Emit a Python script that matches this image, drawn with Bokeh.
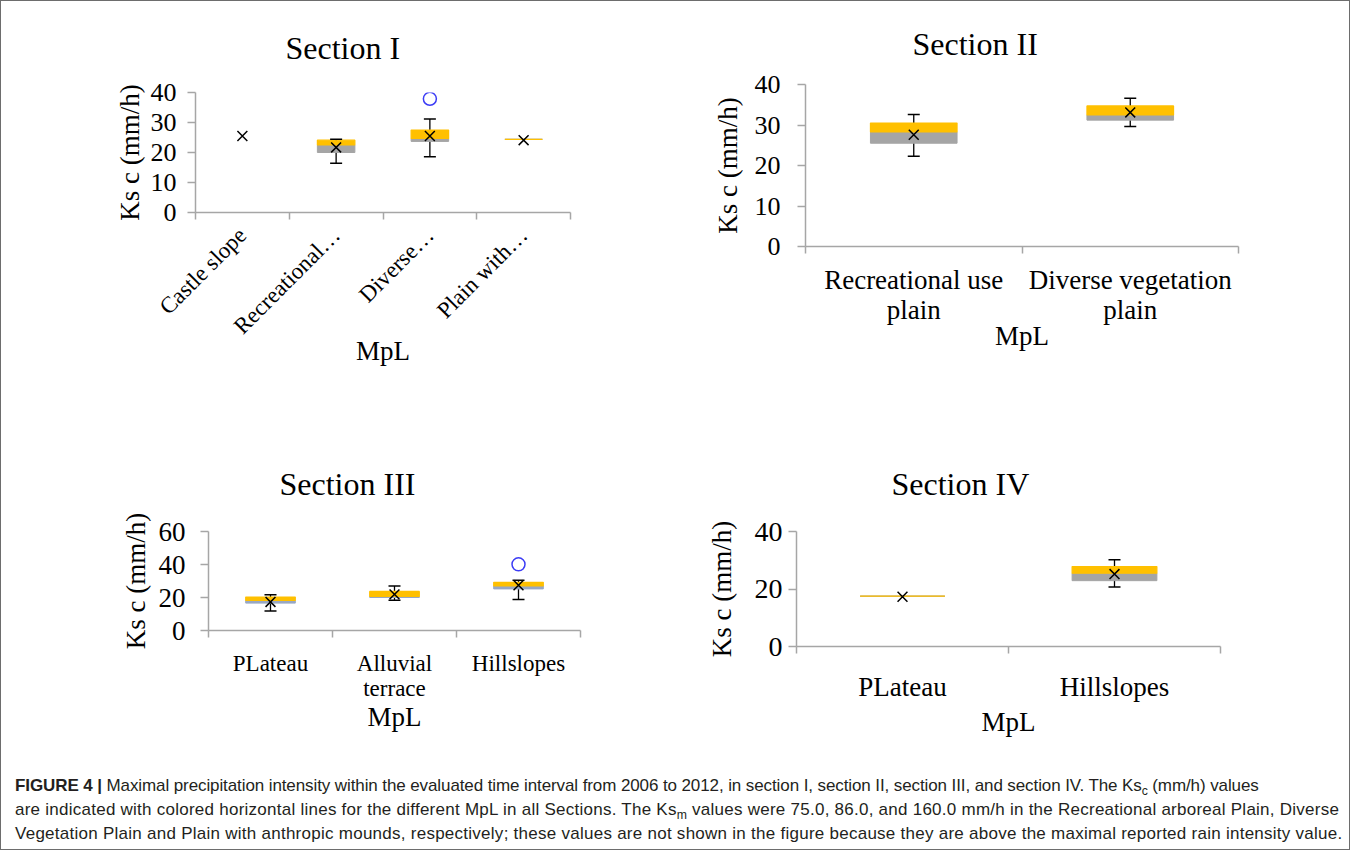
import math
from bokeh.plotting import figure
from bokeh.models import FixedTicker, ColumnDataSource, Div, Range1d
from bokeh.layouts import column, row
from bokeh.embed import file_html
from bokeh.resources import INLINE

# ---------------- data ----------------
s1_categories = ["Castle slope", "Recreational\u2026", "Diverse\u2026", "Plain with\u2026"]
s1_q1 = [None, 20.0, 23.7, 24.4]
s1_median = [None, 22.5, 24.7, 24.4]
s1_q3 = [None, 24.1, 27.5, 24.4]
s1_low = [None, 16.4, 18.6, None]
s1_high = [None, 24.4, 31.2, None]
s1_mean = [25.5, 21.7, 25.5, 24.1]
s1_outlier_cat = [2]
s1_outlier = [37.9]

s2_categories = ["Recreational use\nplain", "Diverse vegetation\nplain"]
s2_q1 = [25.5, 31.2]
s2_median = [28.3, 32.5]
s2_q3 = [30.5, 34.7]
s2_low = [22.3, 29.6]
s2_high = [32.6, 36.6]
s2_mean = [27.6, 33.1]
s2_outlier_cat = []
s2_outlier = []

s3_categories = ["PLateau", "Alluvial\nterrace", "Hillslopes"]
s3_q1 = [16.6, 20.0, 25.2]
s3_median = [18.2, 20.6, 27.0]
s3_q3 = [20.3, 23.7, 29.2]
s3_low = [11.8, 18.4, 18.8]
s3_high = [21.7, 27.0, 30.4]
s3_mean = [17.3, 21.9, 27.4]
s3_outlier_cat = [2]
s3_outlier = [40.1]

s4_categories = ["PLateau", "Hillslopes"]
s4_q1 = [17.5, 22.9]
s4_median = [17.5, 25.5]
s4_q3 = [17.5, 27.8]
s4_low = [None, 20.7]
s4_high = [None, 30.2]
s4_mean = [17.3, 25.2]
s4_outlier_cat = []
s4_outlier = []

y_title = "Ks c (mm/h)"
x_title = "MpL"

SERIF = "Liberation Serif"
ORANGE = "#FFC000"
GRAY = "#A5A5A5"
AXIS = "#A6A6A6"


def panel(title, cats, q1, med, q3, lo, hi, mean, out_cat, out_val, ymax, ystep, g):
    n = len(cats)
    p = figure(width=g["w"], height=g["h"], x_range=Range1d(0, n), y_range=Range1d(0, ymax),
               output_backend="svg", toolbar_location=None,
               min_border_left=g["ml"], min_border_right=g["mr"],
               min_border_top=g["mt"], min_border_bottom=g["mb"])
    p.outline_line_color = None
    p.xgrid.visible = False
    p.ygrid.visible = False
    p.background_fill_color = "white"
    p.border_fill_color = "white"

    p.title.text = title
    p.title.align = "left"
    p.title.text_font = SERIF
    p.title.text_font_style = "normal"
    p.title.text_font_size = "32px"
    p.title.text_color = "black"
    p.title.offset = g["toff"]
    p.title.standoff = g["tstand"]

    yax = p.yaxis[0]
    yax.ticker = FixedTicker(ticks=list(range(0, ymax + 1, ystep)))
    yax.major_tick_out = 8
    yax.major_tick_in = 0
    yax.minor_tick_out = 0
    yax.minor_tick_in = 0
    yax.axis_line_color = AXIS
    yax.axis_line_width = 1.5
    yax.major_tick_line_color = AXIS
    yax.major_tick_line_width = 1.5
    yax.major_label_text_font = SERIF
    yax.major_label_text_font_size = g["yfs"]
    yax.major_label_text_color = "black"
    yax.major_label_standoff = g["ylstand"]
    yax.axis_label = y_title
    yax.axis_label_text_font = SERIF
    yax.axis_label_text_font_style = "normal"
    yax.axis_label_text_font_size = "27px"
    yax.axis_label_text_color = "black"
    yax.axis_label_standoff = g["yastand"]

    xax = p.xaxis[0]
    xax.ticker = FixedTicker(ticks=[i + 0.5 for i in range(n)], minor_ticks=list(range(n + 1)))
    xax.major_label_overrides = {i + 0.5: cats[i] for i in range(n)}
    xax.major_tick_out = 0
    xax.major_tick_in = 0
    xax.minor_tick_out = 7
    xax.minor_tick_in = 0
    xax.axis_line_color = AXIS
    xax.axis_line_width = 1.5
    xax.minor_tick_line_color = AXIS
    xax.minor_tick_line_width = 1.5
    xax.major_label_text_font = SERIF
    xax.major_label_text_font_size = g["xfs"]
    xax.major_label_text_color = "black"
    xax.major_label_text_line_height = 1.0
    xax.major_label_standoff = g["xlstand"]
    if g.get("rot"):
        xax.major_label_orientation = math.pi / 4
    xax.axis_label = x_title
    xax.axis_label_text_font = SERIF
    xax.axis_label_text_font_style = "normal"
    xax.axis_label_text_font_size = "27px"
    xax.axis_label_text_color = "black"
    xax.axis_label_standoff = g["xastand"]

    idx = [i for i in range(n) if q1[i] is not None]
    box = ColumnDataSource(dict(x=[i + 0.5 for i in idx], q1=[q1[i] for i in idx],
                                med=[med[i] for i in idx], q3=[q3[i] for i in idx]))
    widx = [i for i in range(n) if lo[i] is not None]
    wh = ColumnDataSource(dict(x=[i + 0.5 for i in widx], lo=[lo[i] for i in widx],
                               hi=[hi[i] for i in widx]))
    p.segment(x0="x", y0="lo", x1="x", y1="hi", source=wh, line_color="black", line_width=1.3)
    p.vbar(x="x", width=0.4, bottom="q1", top="med", source=box,
           fill_color=g.get("lowcol", GRAY), line_color=g.get("lowcol", GRAY), line_width=1)
    p.vbar(x="x", width=0.4, bottom="med", top="q3", source=box,
           fill_color=ORANGE, line_color=ORANGE, line_width=1.2)
    p.scatter(x="x", y="hi", source=wh, marker="dash", size=12, line_color="black", line_width=1.5)
    p.scatter(x="x", y="lo", source=wh, marker="dash", size=12, line_color="black", line_width=1.5)
    mean_src = ColumnDataSource(dict(x=[i + 0.5 for i in range(n)], y=mean))
    p.scatter(x="x", y="y", source=mean_src, marker="x", size=14, line_color="black", line_width=1.5)
    if out_val:
        out_src = ColumnDataSource(dict(x=[c + 0.5 for c in out_cat], y=out_val))
        p.scatter(x="x", y="y", source=out_src, marker="circle", size=13, fill_color=None,
                  line_color="#3C3CF5", line_width=1.5)
    return p


g1 = dict(w=664, h=422, ml=194, mr=95, mt=90, mb=211, toff=90, tstand=53,
          yfs="26px", ylstand=11, yastand=3, xfs="23px", xlstand=12, xastand=-15, rot=True)
g2 = dict(w=676, h=422, ml=140, mr=103, mt=82, mb=177, toff=107, tstand=45,
          yfs="26px", ylstand=17, yastand=9, xfs="27px", xlstand=11, xastand=-7)
g3 = dict(w=664, h=330, ml=207, mr=85, mt=108, mb=123, toff=71, tstand=59,
          yfs="27px", ylstand=15, yastand=5, xfs="23px", xlstand=13, xastand=-2,
          lowcol="#98A8C4")
g4 = dict(w=676, h=330, ml=131, mr=121, mt=108, mb=107, toff=95, tstand=59,
          yfs="28px", ylstand=6, yastand=15, xfs="27px", xlstand=18, xastand=2)

p1 = panel("Section I", s1_categories, s1_q1, s1_median, s1_q3, s1_low, s1_high, s1_mean,
           s1_outlier_cat, s1_outlier, 40, 10, g1)
p2 = panel("Section II", s2_categories, s2_q1, s2_median, s2_q3, s2_low, s2_high, s2_mean,
           s2_outlier_cat, s2_outlier, 40, 10, g2)
p3 = panel("Section III", s3_categories, s3_q1, s3_median, s3_q3, s3_low, s3_high, s3_mean,
           s3_outlier_cat, s3_outlier, 60, 20, g3)
p4 = panel("Section IV", s4_categories, s4_q1, s4_median, s4_q3, s4_low, s4_high, s4_mean,
           s4_outlier_cat, s4_outlier, 40, 20, g4)

SUB = '<span style="font-size:0.72em;vertical-align:-0.3em;line-height:0">%s</span>'
line1 = ("<b>FIGURE 4 |</b> Maximal precipitation intensity within the evaluated time interval from 2006 to 2012, "
         "in section I, section II, section III, and section IV. The Ks" + SUB % "c" + " (mm/h) values")
line2 = ("are indicated with colored horizontal lines for the different MpL in all Sections. The Ks" + SUB % "m" +
         " values were 75.0, 86.0, and 160.0 mm/h in the Recreational arboreal Plain, Diverse")
line3 = ("Vegetation Plain and Plain with anthropic mounds, respectively; these values are not shown in the "
         "figure because they are above the maximal reported rain intensity value.")
caption_html = (
    '<span style="letter-spacing:-0.1px">' + line1 + "</span><br>"
    '<span style="letter-spacing:0.25px">' + line2 + "</span><br>"
    '<span style="letter-spacing:0.26px">' + line3 + "</span>"
)
cap = Div(text=caption_html, width=1338, height=86,
          styles={"font-family": "Liberation Sans, Arial, sans-serif", "font-size": "17px",
                  "line-height": "24px", "padding-left": "9px", "padding-top": "16px",
                  "white-space": "nowrap", "color": "#231f20"})

left = column(row(p1), row(p3))
right = column(row(p2), row(p4))
layout = column(row(left, right), cap, styles={"border": "1.5px solid #6d6d6d"})

open("out.html", "w").write(file_html(layout, INLINE))
